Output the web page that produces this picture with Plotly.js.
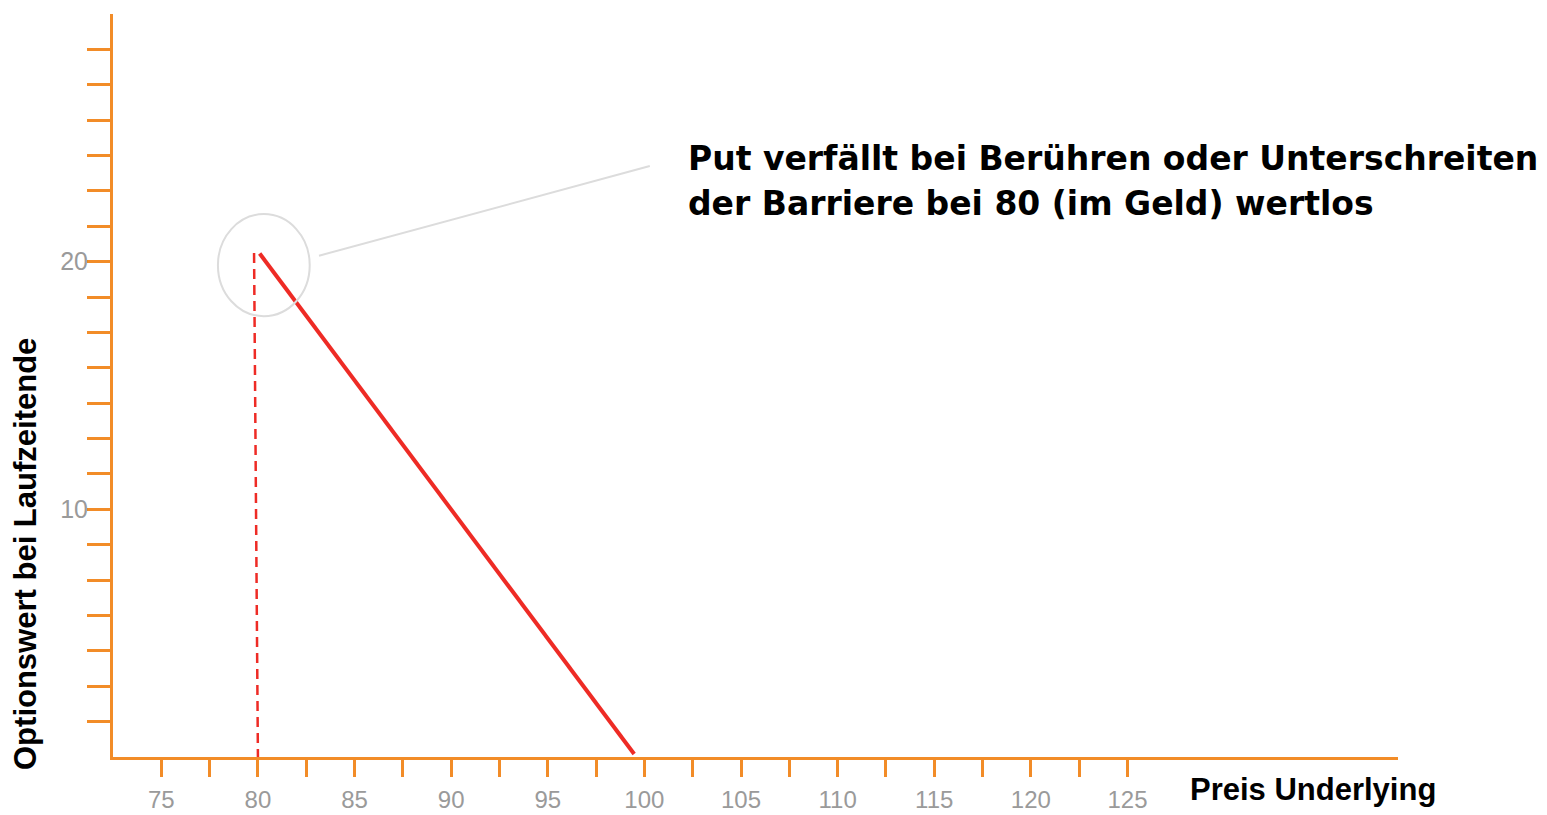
<!DOCTYPE html>
<html>
<head>
<meta charset="utf-8">
<script src="https://cdn.plot.ly/plotly-3.0.1.min.js"></script>
<style>
html,body{margin:0;padding:0;background:#fff;}
#chart{width:1547px;height:815px;}
</style>
</head>
<body>
<div id="chart"></div>
<script>
// ---- data ----
const payoffX = [80.09, 99.47];
const payoffY = [20.33, 0.12];
const barrierX = [79.8, 80.0];
const barrierY = [20.35, 0.0];

const xTickVals = [75, 77.5, 80, 82.5, 85, 87.5, 90, 92.5, 95, 97.5, 100, 102.5, 105, 107.5, 110, 112.5, 115, 117.5, 120, 122.5, 125];
const xTickText = ["75", "", "80", "", "85", "", "90", "", "95", "", "100", "", "105", "", "110", "", "115", "", "120", "", "125"];
const yTickIndex = [1, 2, 3, 4, 5, 6, 7, 8, 9, 10, 11, 12, 13, 14, 15, 16, 17, 18, 19, 20];
const yTickStep = 10 / 7;
const yTickVals = yTickIndex.map(k => k * yTickStep);
const yTickText = yTickIndex.map(k => (k === 7 ? "10" : (k === 14 ? "20" : "")));

const calloutCircleX = [77.93, 82.68];
const calloutCircleY = [17.80, 21.92];
const calloutLineX = [83.16, 100.28];
const calloutLineY = [20.24, 23.86];

const noteLine1 = "Put verfällt bei Berühren oder Unterschreiten";
const noteLine2 = "der Barriere bei 80 (im Geld) wertlos";
const xTitle = "Preis Underlying";
const yTitle = "Optionswert bei Laufzeitende";

// ---- styles ----
const orange = "#f28c28";
const red = "#ee2b25";
const gray = "#9a9a9a";
const noteFont = {family: "DejaVu Sans, sans-serif", size: 33, color: "#000000", weight: "bold"};
const titleFont = {family: "Liberation Sans, Arial, sans-serif", size: 31, color: "#000000", weight: "bold"};
const xTickFont = {family: "Liberation Sans, Arial, sans-serif", size: 24, color: gray};
const yTickFont = {family: "Liberation Sans, Arial, sans-serif", size: 25, color: gray};

const traces = [
  {
    x: barrierX, y: barrierY, type: "scatter", mode: "lines",
    line: {color: red, width: 2.5, dash: "10px,6px"},
    hoverinfo: "skip", showlegend: false
  },
  {
    x: payoffX, y: payoffY, type: "scatter", mode: "lines",
    line: {color: red, width: 4},
    hoverinfo: "skip", showlegend: false
  }
];

const layout = {
  width: 1547, height: 815,
  margin: {l: 113, r: 149, t: 14, b: 58},
  paper_bgcolor: "#ffffff", plot_bgcolor: "#ffffff",
  showlegend: false,
  xaxis: {
    range: [72.5, 139],
    showgrid: false, zeroline: false,
    showline: true, linecolor: orange, linewidth: 3,
    ticks: "outside", ticklen: 17, tickwidth: 3, tickcolor: orange,
    tickmode: "array", tickvals: xTickVals, ticktext: xTickText,
    ticklabelstandoff: 2,
    tickfont: xTickFont,
    fixedrange: true
  },
  yaxis: {
    range: [0, 30],
    showgrid: false, zeroline: false,
    showline: true, linecolor: orange, linewidth: 3,
    ticks: "outside", ticklen: 23, tickwidth: 3, tickcolor: orange,
    tickmode: "array", tickvals: yTickVals, ticktext: yTickText,
    ticklabelstandoff: -6,
    tickfont: yTickFont,
    fixedrange: true
  },
  shapes: [
    {
      type: "circle", xref: "x", yref: "y",
      x0: calloutCircleX[0], x1: calloutCircleX[1],
      y0: calloutCircleY[0], y1: calloutCircleY[1],
      line: {color: "#dcdcdc", width: 2}
    },
    {
      type: "line", xref: "x", yref: "y",
      x0: calloutLineX[0], x1: calloutLineX[1],
      y0: calloutLineY[0], y1: calloutLineY[1],
      line: {color: "#dcdcdc", width: 2}
    }
  ],
  annotations: [
    {
      text: noteLine1, xref: "x", yref: "y",
      x: 102.15, y: 24.18, xanchor: "left", yanchor: "middle",
      align: "left", showarrow: false, font: noteFont
    },
    {
      text: noteLine2, xref: "x", yref: "y",
      x: 102.15, y: 22.36, xanchor: "left", yanchor: "middle",
      align: "left", showarrow: false, font: noteFont
    },
    {
      text: xTitle, xref: "paper", yref: "paper",
      x: 0.934, y: -0.0431, xanchor: "center", yanchor: "middle",
      showarrow: false, font: titleFont
    },
    {
      text: yTitle, xref: "paper", yref: "paper",
      x: -0.0685, y: 0.2732, xanchor: "center", yanchor: "middle",
      textangle: -90, showarrow: false, font: titleFont
    }
  ]
};

Plotly.newPlot("chart", traces, layout, {displayModeBar: false, staticPlot: true});
</script>
</body>
</html>
